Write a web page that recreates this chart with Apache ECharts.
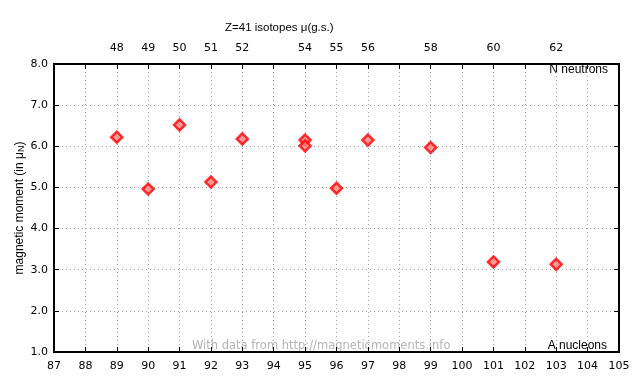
<!DOCTYPE html>
<html><head><meta charset="utf-8">
<script src="https://cdn.jsdelivr.net/npm/echarts@6/dist/echarts.min.js"></script>
<style>html,body{margin:0;padding:0;background:#fff}#c{width:640px;height:384px}</style>
</head><body><div id="c"></div>
<script>
// Data
var massNumbers = [89, 90, 91, 92, 93, 95, 95, 96, 97, 99, 101, 103];
var moments =     [6.22, 4.96, 6.52, 5.13, 6.18, 6.15, 6.01, 4.98, 6.15, 5.97, 3.19, 3.13];
var topTickPositions = [89, 90, 91, 92, 93, 95, 96, 97, 99, 101, 103];
var topTickLabels =    ['48','49','50','51','52','54','55','56','58','60','62'];
var titleText = 'Z=41 isotopes \u03bc(g.s.)';

var FONT = 'DejaVu Sans';
var TFONT = 'Liberation Sans';
var chart = echarts.init(document.getElementById('c'));
var pts = massNumbers.map(function(a, i){ return [a, moments[i]]; });
var gridLine = {show:true, lineStyle:{color:'#a0a0a0', type:[1,3], width:1}};
var axLine = {show:true, onZero:false, lineStyle:{color:'#000', width:2}};
chart.setOption({
  animation:false,
  textStyle:{fontFamily:FONT},
  title:{text:titleText, left:220, top:17, textStyle:{fontFamily:TFONT, fontSize:11.5, fontWeight:'normal', color:'#000'}},
  grid:{left:54, right:21, top:64, bottom:32},
  xAxis:[{
    type:'value', position:'bottom', min:87, max:105, interval:1,
    axisLine:axLine, axisTick:{inside:true, length:5, lineStyle:{color:'#000'}},
    axisLabel:{fontFamily:FONT, fontSize:11, color:'#000', margin:9},
    splitLine:gridLine
  },{
    type:'value', position:'top', min:87, max:105, interval:1,
    axisLine:axLine, axisTick:{inside:true, length:5, lineStyle:{color:'#000'}},
    axisLabel:{fontFamily:FONT, fontSize:11, color:'#000', margin:10,
      formatter:function(v){ var i = topTickPositions.indexOf(v); return i>=0 ? topTickLabels[i] : ''; }},
    splitLine:{show:false}
  }],
  yAxis:[{
    type:'value', position:'left', min:1, max:8, interval:1,
    axisLine:axLine, axisTick:{inside:true, length:5, lineStyle:{color:'#000'}},
    axisLabel:{fontFamily:FONT, fontSize:11, color:'#000', margin:6, formatter:function(v){return v.toFixed(1);}},
    splitLine:gridLine,
    name:'{a|magnetic moment (in \u03bc}{s|N}{a|)}', nameLocation:'middle', nameGap:28, nameRotate:90,
    nameMoveOverlap:false,
    nameTextStyle:{rich:{a:{fontFamily:TFONT, fontSize:12, color:'#000'}, s:{fontFamily:TFONT, fontSize:9, color:'#000', verticalAlign:'bottom', padding:[4,0,0,0]}}}
  },{
    type:'value', position:'right', min:1, max:8, interval:1,
    axisLine:axLine, axisTick:{inside:true, length:5, lineStyle:{color:'#000'}},
    axisLabel:{show:false}, splitLine:{show:false}
  }],
  graphic:[
    {type:'text', right:32, top:64, style:{text:'N neutrons', font:'12px "Liberation Sans"', fill:'#000'}},
    {type:'text', right:33, top:340, style:{text:'A nucleons', font:'12px "Liberation Sans"', fill:'#000'}},
    {type:'text', left:192, top:340, style:{text:'With data from http://magneticmoments.info', font:'11.5px "DejaVu Sans"', fill:'#b4b4b4'}}
  ],
  series:[{
    type:'scatter', xAxisIndex:0, yAxisIndex:0, data:pts,
    symbol:'diamond', symbolSize:11,
    itemStyle:{color:'#ff8080', borderColor:'#ff0000', borderWidth:2.5}
  }]
});
</script></body></html>
